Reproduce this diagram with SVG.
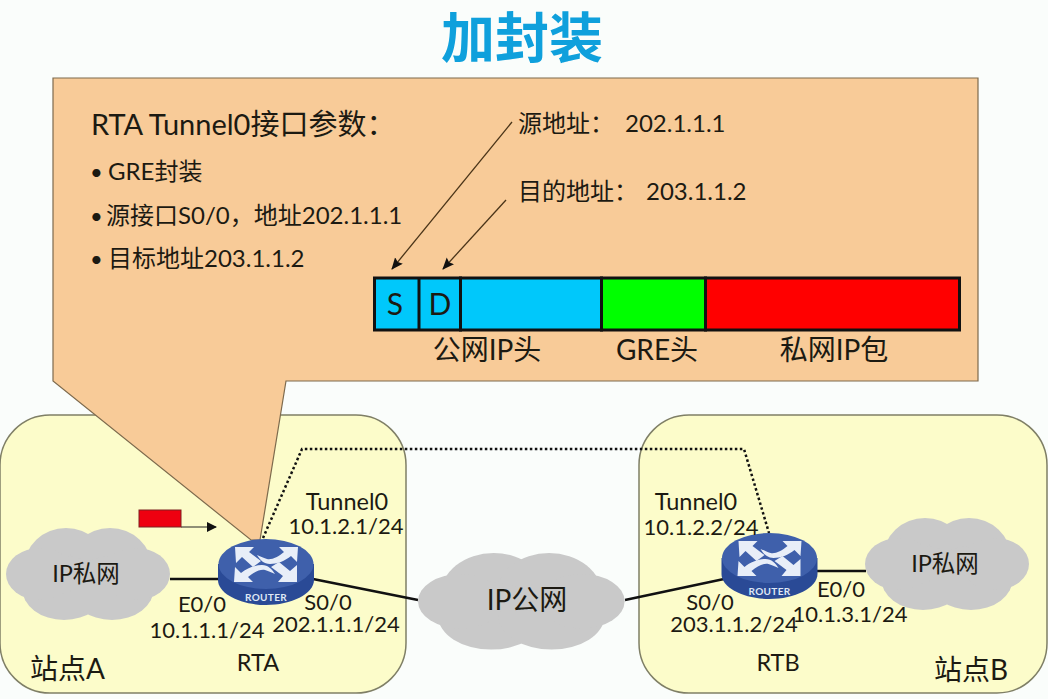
<svg xmlns="http://www.w3.org/2000/svg" xmlns:xlink="http://www.w3.org/1999/xlink" width="1048" height="699" viewBox="0 0 1048 699">
<style>
text{font-family:"Lato","Noto Sans CJK SC",sans-serif;fill:#1c1a12}
.n{font-size:22px;text-anchor:middle}
.t{font-size:23.500px;text-anchor:middle}
.c{font-size:24px}
.h{font-size:28px;text-anchor:middle}
.b{font-size:22px}
.site{fill:#fcfcca;stroke:#7f7f66;stroke-width:1.500}
.cloud{fill:#c9c9c9}
.link{stroke:#111;stroke-width:2.500;fill:none}
.pkt{stroke:#111;stroke-width:3}
.ptr{stroke:#4a3418;stroke-width:1.300;fill:none;marker-end:url(#ah)}
</style>
<defs>
<marker id="ah" markerWidth="14" markerHeight="12" refX="11" refY="5" orient="auto" markerUnits="userSpaceOnUse"><path d="M0 0L12 5L0 10L2 5Z" fill="#111"/></marker>
<g id="router">
<path d="M-48 0V16C-48 30-25 41 0 41S48 30 48 16V0Z" fill="#2a4a96"/>
<ellipse cx="0" cy="0" rx="47.500" ry="25" fill="#3f60ab"/>
<g fill="#e8eef8">
<path d="M-31-17L-12-17L-17-12L-5-3L-13 3L-24-7L-30-1Z"/>
<path d="M31 18L12 18L17 12L5 3L13-2L24 7L31 1Z"/>
<path d="M32-17L13-17L18-12C12-7 6-4 1-5C-3-6-6-8-9-9C-6-4-2 0 4 0C11 0 19-3 25-8L31-2Z"/>
<path d="M-32 18L-13 18L-18 13C-12 8-6 5-1 6C3 7 6 9 9 10C6 5 2 1-4 1C-11 1-19 4-25 9L-31 3Z"/>
</g>
<text x="0" y="37" text-anchor="middle" style="font-size:10px;font-weight:700;fill:#dfe7f5;letter-spacing:.3px">ROUTER</text>
</g>
<g id="cloudS">
<ellipse cx="60" cy="40" rx="42" ry="40"/>
<ellipse cx="104" cy="40" rx="42" ry="40"/>
<ellipse cx="58" cy="60" rx="42" ry="32"/>
<ellipse cx="106" cy="60" rx="42" ry="32"/>
<ellipse cx="34" cy="46" rx="34" ry="26"/>
<ellipse cx="130" cy="46" rx="34" ry="26"/>
</g>
</defs>
<rect width="1048" height="699" fill="#fafdfb"/>
<g id="site-a"><rect class="site" x="0" y="415" width="406" height="278" rx="50"/><text x="30" y="679" style="font-size:28px">站点A</text></g>
<g id="site-b"><rect class="site" x="639" y="415" width="408" height="278" rx="50"/><text x="934" y="680" style="font-size:28px">站点B</text></g>
<text x="522" y="58" text-anchor="middle" style="font-size:54px;font-weight:700;fill:#0fa0dc">加封装</text>
<g id="callout">
<path d="M53 78H978V381H286L260 540H251L53 381Z" fill="#f8cb98" stroke="#7d6a4d" stroke-width="1.200"/>
<text x="91" y="135" style="font-size:29px">RTA Tunnel0接口参数：</text>
<text x="90" y="180" class="b">•</text><text x="108" y="180" class="c">GRE封装</text>
<text x="90" y="224" class="b">•</text><text x="106" y="224" class="c">源接口S0/0，地址202.1.1.1</text>
<text x="90" y="267" class="b">•</text><text x="108" y="267" class="c">目标地址203.1.1.2</text>
<text x="518" y="132" class="c">源地址：<tspan x="625">202.1.1.1</tspan></text>
<text x="518" y="200" class="c">目的地址：<tspan x="646">203.1.1.2</tspan></text>
</g>
<g id="packet">
<rect class="pkt" x="374.500" y="278" width="86" height="52" fill="#00c8fb"/>
<rect class="pkt" x="460.500" y="278" width="141" height="52" fill="#00c8fb"/>
<rect class="pkt" x="601.500" y="278" width="104" height="52" fill="#00ff00"/>
<rect class="pkt" x="705.500" y="278" width="254" height="52" fill="#ff0000"/>
<path class="pkt" d="M419 278V330"/>
<text x="395" y="315" text-anchor="middle" style="font-size:30px">S</text>
<text x="440" y="315" text-anchor="middle" style="font-size:30px">D</text>
<text x="487" y="360" class="h">公网IP头</text>
<text x="657" y="360" class="h">GRE头</text>
<text x="834" y="360" class="h">私网IP包</text>
</g>
<g id="connectors">
<path class="ptr" d="M512 122L392 269"/>
<path class="ptr" d="M506 200L443 269"/>
<path class="link" d="M170 579H220"/>
<path class="link" d="M313 579L418 600"/>
<path class="link" d="M625 600L724 579"/>
<path class="link" d="M815 571H866"/>
<path d="M263 538L302 449H744L769 533" fill="none" stroke="#111" stroke-width="2.500" stroke-dasharray="2.500 2.500"/>
<path d="M181 527H216" stroke="#222" stroke-width="1"/><path d="M207 522L217 527L207 532Z" fill="#111"/>
</g>
<g id="tag"><rect x="139" y="510" width="42" height="17" fill="#ee0010" stroke="#7d2020"/></g>
<g id="cloud-a" class="cloud"><use xlink:href="#cloudS" href="#cloudS" transform="translate(6 528)"/><text x="86" y="582" class="t">IP私网</text></g>
<g id="cloud-b" class="cloud"><use xlink:href="#cloudS" href="#cloudS" transform="translate(865 518)"/><text x="945" y="572" class="t">IP私网</text></g>
<g id="cloud-p" class="cloud"><use xlink:href="#cloudS" href="#cloudS" transform="translate(418 553) scale(1.260 1.050)"/><text x="527" y="610" style="font-size:28px;text-anchor:middle">IP公网</text></g>
<g id="rta"><use xlink:href="#router" href="#router" transform="translate(266 564)"/>
<text x="347" y="510" class="t">Tunnel0</text><text x="346" y="534" class="n">10.1.2.1/24</text>
<text x="202" y="612" class="n">E0/0</text><text x="207" y="638" class="n">10.1.1.1/24</text>
<text x="328" y="610" class="n">S0/0</text><text x="336" y="632" class="n">202.1.1.1/24</text>
<text x="258" y="671" class="t">RTA</text></g>
<g id="rtb"><use xlink:href="#router" href="#router" transform="translate(769.500 558)"/>
<text x="696" y="510" class="t">Tunnel0</text><text x="701" y="535" class="n">10.1.2.2/24</text>
<text x="710" y="610" class="n">S0/0</text><text x="734" y="632" class="n">203.1.1.2/24</text>
<text x="841" y="597" class="n">E0/0</text><text x="850" y="622" class="n">10.1.3.1/24</text>
<text x="778" y="671" class="t">RTB</text></g>
</svg>
